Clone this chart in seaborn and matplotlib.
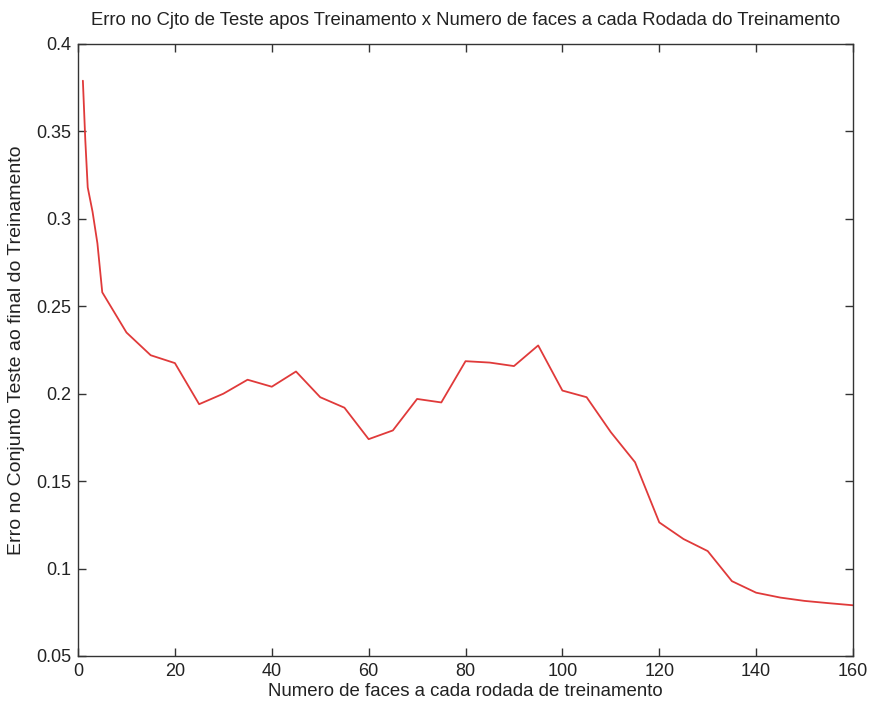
import matplotlib
matplotlib.use("Agg")
import matplotlib.pyplot as plt
import seaborn as sns
import pandas as pd

faces = [1, 1.5, 2, 3, 4, 5, 10, 15, 20, 25, 30, 35, 40, 45, 50, 55, 60, 65, 70, 75,
         80, 85, 90, 95, 100, 105, 110, 115, 120, 125, 130, 135, 140, 145, 150, 155, 160]
erro = [0.379, 0.345, 0.318, 0.304, 0.286, 0.258, 0.235, 0.222, 0.2175, 0.194, 0.200,
        0.208, 0.204, 0.2127, 0.198, 0.192, 0.174, 0.179, 0.197, 0.195,
        0.2186, 0.2178, 0.2158, 0.2276, 0.2018, 0.198, 0.178, 0.1608, 0.1264, 0.1169,
        0.110, 0.0928, 0.0862, 0.0834, 0.0815, 0.0802, 0.079]

xticks = [0, 20, 40, 60, 80, 100, 120, 140, 160]
yticks = [0.05, 0.1, 0.15, 0.2, 0.25, 0.3, 0.35, 0.4]
ytick_labels = ["0.05", "0.1", "0.15", "0.2", "0.25", "0.3", "0.35", "0.4"]

title = "Erro no Cjto de Teste apos Treinamento x Numero de faces a cada Rodada do Treinamento"
xlabel = "Numero de faces a cada rodada de treinamento"
ylabel = "Erro no Conjunto Teste ao final do Treinamento"

sns.set_theme(style="ticks")
plt.rcParams["font.family"] = ["Liberation Sans", "DejaVu Sans"]

df = pd.DataFrame({"faces": faces, "erro": erro})

fig = plt.figure(figsize=(8.69, 7.04), dpi=100)
ax = fig.add_axes([0.0898, 0.0682, 0.8918, 0.8693])
sns.lineplot(data=df, x="faces", y="erro", ax=ax, color="#e03a3a", linewidth=1.3)

ax.set_xlim(0, 160)
ax.set_ylim(0.05, 0.4)
ax.set_xticks(xticks)
ax.set_xticklabels([str(t) for t in xticks])
ax.set_yticks(yticks)
ax.set_yticklabels(ytick_labels)
ax.tick_params(direction="in", length=6, width=1, top=True, right=True,
               labelsize=13, colors="#333333", labelcolor="#222222")
ax.tick_params(axis="y", pad=5)
ax.tick_params(axis="x", pad=5)
for s in ax.spines.values():
    s.set_visible(True)
    s.set_color("#333333")
    s.set_linewidth(1.0)

ax.set_title(title, fontsize=13.3, color="#222222", pad=14)
ax.set_xlabel(xlabel, fontsize=13.4, color="#222222", labelpad=2)
ax.set_ylabel(ylabel, fontsize=14, color="#222222", labelpad=8)
ax.grid(False)
ax.set_facecolor("white")
fig.patch.set_facecolor("white")

fig.savefig("out.png", dpi=100, facecolor="white")
